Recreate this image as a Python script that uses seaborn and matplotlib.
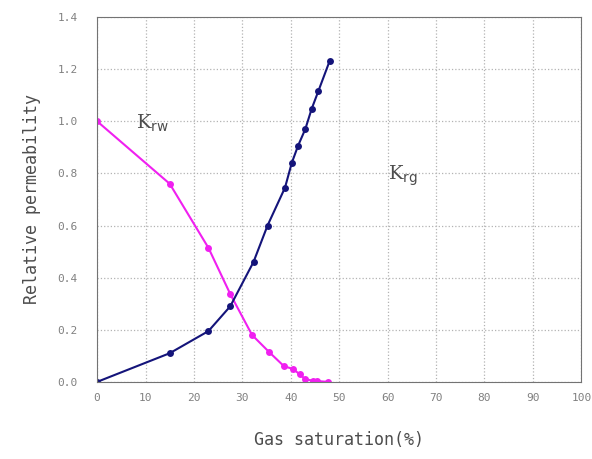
import numpy as np
import pandas as pd
import seaborn as sns
import matplotlib.pyplot as plt

sns.set_style("whitegrid", {'grid.linestyle': ':', 'grid.color': '.7',
                            'axes.edgecolor': '.45'})
plt.rcParams['font.family'] = ['DejaVu Sans Mono', 'DejaVu Sans']

# Krw curve (water)
sg_w = [0, 15, 23, 27.5, 32, 35.5, 38.6, 40.4, 41.8, 43, 44.5, 45.5, 47.7]
krw = [1.0, 0.76, 0.514, 0.337, 0.18, 0.115, 0.06, 0.05, 0.03, 0.01, 0.005, 0.003, 0.0]

# Krg curve (gas)
sg_g = [0, 15, 23, 27.5, 32.3, 35.2, 38.8, 40.2, 41.5, 43, 44.3, 45.7, 48]
krg = [0.0, 0.11, 0.195, 0.29, 0.46, 0.60, 0.745, 0.84, 0.906, 0.97, 1.047, 1.116, 1.23]

x_ticks = [0, 10, 20, 30, 40, 50, 60, 70, 80, 90, 100]
y_ticks = [0.0, 0.2, 0.4, 0.6, 0.8, 1.0, 1.2, 1.4]

fig = plt.figure(figsize=(5.92, 4.59), dpi=100)
ax = fig.add_axes([0.164, 0.168, 0.818, 0.795])

sns.lineplot(x=sg_w, y=krw, ax=ax, color='#F020F0', marker='o', markersize=5,
             markeredgewidth=0, linewidth=1.5)
sns.lineplot(x=sg_g, y=krg, ax=ax, color='#14147A', marker='o', markersize=5,
             markeredgewidth=0, linewidth=1.5)

ax.set_xlim(0, 100)
ax.set_ylim(0, 1.4)
ax.set_xticks(x_ticks)
ax.set_yticks(y_ticks)
ax.set_xticklabels([str(t) for t in x_ticks], color='.5', fontsize=8)
ax.set_yticklabels(['%.1f' % t for t in y_ticks], color='.5', fontsize=8)
ax.tick_params(axis='x', direction='in', length=4, color='.2', pad=8)
ax.tick_params(axis='y', direction='in', length=4, color='.2', pad=14)
ax.grid(True, linestyle=':', color='.7', linewidth=0.9)

ax.set_xlabel('Gas saturation(%)', fontsize=12, color='.3', labelpad=20)
ax.set_ylabel('Relative permeability', fontsize=12, color='.3', labelpad=12)

ax.text(8, 0.99, r'K$_{\mathrm{rw}}$', fontsize=14, family='serif', color='.3',
        va='center')
ax.text(60, 0.79, r'K$_{\mathrm{rg}}$', fontsize=14, family='serif', color='.3',
        va='center')

fig.savefig('out.png', dpi=100)
